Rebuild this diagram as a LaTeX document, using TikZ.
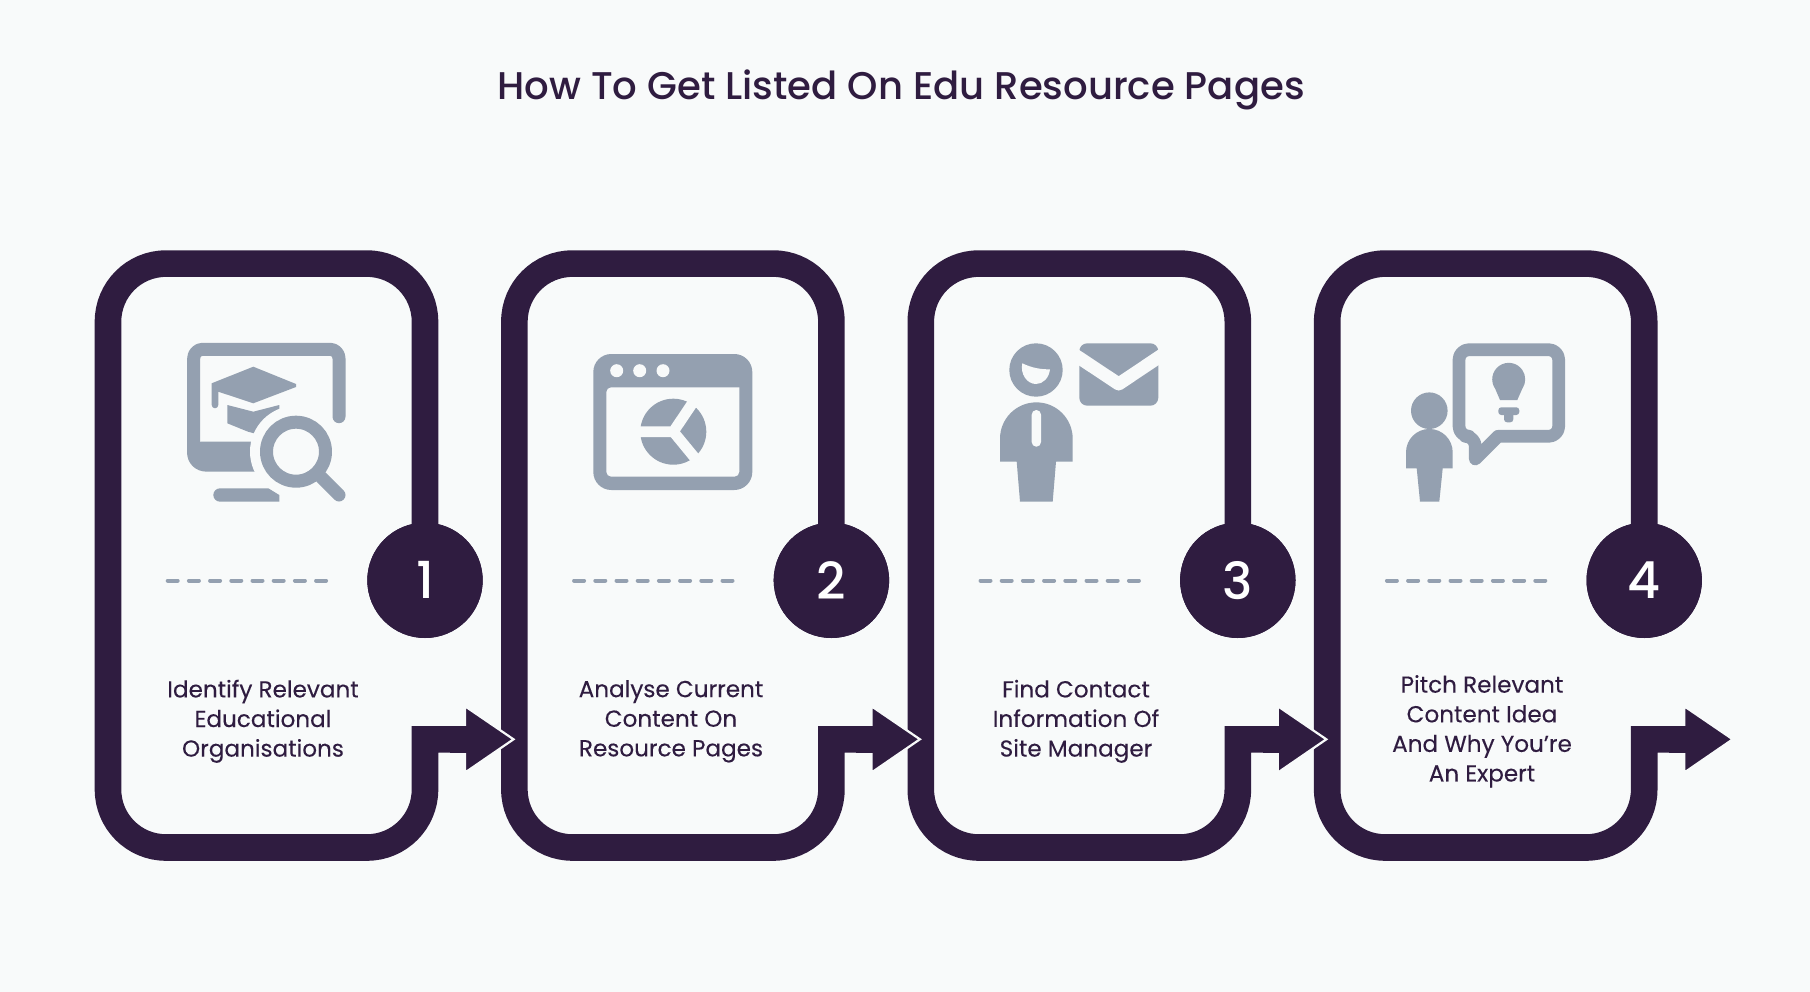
\documentclass[tikz,border=0pt]{standalone}
\usepackage{fontspec}
\setmainfont{Poppins}[FakeBold=0.15]
\newfontfamily\headfont{Poppins Medium}
\definecolor{pagebg}{HTML}{F8FAFA}
\definecolor{framecol}{HTML}{2F1C40}
\definecolor{iconcol}{HTML}{94A0B0}
\tikzset{
    framepath/.style={draw=framecol, line width=26.6pt, line join=miter},
    numcircle/.style={circle, fill=framecol, text=white, minimum size=115.4pt, inner sep=0pt, font=\headfont\fontsize{51}{60}\selectfont},
    steptext/.style={align=center, text=framecol, font=\fontsize{23.1}{29.6}\selectfont},
    dashline/.style={draw=iconcol, line width=4pt, line cap=round, dash pattern=on 10pt off 11.2pt},
    iconfill/.style={fill=iconcol},
    iconline/.style={draw=iconcol, line width=13pt, line cap=round, line join=round},
    iconcut/.style={draw=pagebg, line cap=round, line join=round},
}
\begin{document}
\begin{tikzpicture}[x=1pt, y=-1pt]
    \fill[pagebg] (0,0) rectangle (1810,992);
    \useasboundingbox (0,0) rectangle (1810,992);

    \node[text=framecol, font=\headfont\fontsize{38.6}{48}\selectfont] (title) at (901,90) {How To Get Listed On Edu Resource Pages};

    % frames first, the arrows lie over the next frame
    \foreach \i in {0,1,2,3} {
        \begin{scope}[xshift=\i*406.4pt]
            \node[numcircle, text opacity=0] (hold\i) at (425,580.3) {};
            \draw[framepath] (hold\i.center) [rounded corners=58pt] -- (425,263.6) -- (108,263.6) -- (108,847.5) -- (425,847.5) [sharp corners] -- (425,739.3) -- (466,739.3);
            \draw[dashline] (167.7,580.5) -- (326.1,580.5);
        \end{scope}
    }
    \foreach \i/\num in {0/1,1/2,2/3,3/4} {
        \begin{scope}[xshift=\i*406.4pt]
            \node[numcircle] (num\i) at (425,580.3) {\num};
            \coordinate (tail\i) at (450,739.3);
            \coordinate (head\i) at (468,739.3);
            \fill[framecol, draw=pagebg, line width=2.2pt, miter limit=20] (465,706.2) -- (513.5,739.3) -- (465,772.6) -- cycle;
            \draw[framecol, line width=26.6pt] (tail\i) -- (head\i);
        \end{scope}
    }

    \node[steptext] (text0) at (263,721.3) {Identify Relevant\\Educational\\Organisations};
    \node[steptext] (text1) at (671,721.3) {Analyse Current\\Content On\\Resource Pages};
    \node[steptext] (text2) at (1076,721.3) {Find Contact\\Information Of\\Site Manager};
    \node[steptext] (text3) at (1482,731.3) {Pitch Relevant\\Content Idea\\And Why You\symbol{39}re\\An Expert};

    % icon 1
    \draw[iconline] (339,416.7) -- (339,359) [rounded corners=9pt] -- (339,349.3) -- (193.7,349.3) -- (193.7,440);
    \fill[iconfill] (187,435) -- (200,441.7) -- (260,441.7) -- (260,471.7) -- (207,471.7) .. controls (195,471.7) and (187,463) .. (187,452) -- cycle;
    \fill[iconfill] (253.3,366.7) -- (296,384) -- (296,387) -- (253.3,403.3) -- (218.3,391.7) -- (218.3,405) arc[start angle=0, end angle=-180, radius=3.3pt] -- (211.7,383.3) -- cycle;
    \fill[iconfill] (227.3,405) -- (253.3,411.7) -- (279.3,405) -- (279.3,440) -- (248,431.7) -- (227.3,423.3) -- cycle;
    \fill[pagebg] (296,451.7) circle (46pt);
    \draw[iconline, line cap=butt] (296,451.7) circle (29.5pt);
    \draw[iconline] (321.7,477.7) -- (339,495);
    \fill[iconfill] (220,488.3) -- (268.3,488.3) -- (279.3,495) -- (279.3,501.7) -- (220,501.7) arc[start angle=-90, end angle=-270, radius=6.7pt] -- cycle;

    % icon 2
    \fill[iconfill, rounded corners=18pt] (593.3,354) rectangle (752.3,490);
    \fill[pagebg, rounded corners=5pt] (606.3,476.7) -- (606.3,387.3) [sharp corners] -- (739.3,387.3) [rounded corners=5pt] -- (739.3,476.7) -- cycle;
    \foreach \dotx in {616.7,639.7,663} {
        \fill[pagebg] (\dotx,370.7) circle (6.5pt);
    }
    \fill[iconfill] (673.3,431.7) circle (33pt);
    \draw[pagebg, line width=10.7pt] (630,431.7) -- (673.3,431.7) -- (700,392);
    \draw[pagebg, line width=10.7pt] (673.3,431.7) -- (704,469);

    % icon 3
    \fill[iconfill] (1036,370) circle (26.7pt);
    \fill[pagebg] (1022.3,363.3) .. controls (1032,368) and (1041,369.5) .. (1050,369.3) .. controls (1049,378) and (1043,384) .. (1036,384) .. controls (1027,384) and (1020,374) .. (1022.3,363.3) -- cycle;
    \fill[iconfill] (1000,438.7) arc[start angle=180, end angle=0, radius=36.35pt] -- (1072.7,461.7) -- (1056,461.7) -- (1052.7,501.7) -- (1020,501.7) -- (1016.7,461.7) -- (1000,461.7) -- cycle;
    \fill[pagebg, rounded corners=4.6pt] (1031.7,410) rectangle (1041,446.7);
    \fill[iconfill, rounded corners=8pt] (1079.3,343.3) rectangle (1158.3,405.7);
    \draw[iconcut, line width=13pt] (1075,355) -- (1118.7,384) -- (1162,355);

    % icon 4
    \draw[iconline, line width=12.7pt] (1498,436.3) [rounded corners=10pt] -- (1558.7,436.3) -- (1558.7,349.7) -- (1459,349.7) -- (1459,436.3) -- (1475.3,436.3) [sharp corners] -- (1475.3,459) -- cycle;
    \fill[iconfill] (1500,400) -- (1495.2,388.8) arc[start angle=215, end angle=-35, radius=16.5pt] -- (1517.3,400) -- cycle;
    \fill[iconfill, rounded corners=3pt] (1498.3,407.3) rectangle (1519.3,415);
    \fill[iconfill, rounded corners=3pt] (1504,412) rectangle (1513.3,422.3);
    \fill[iconfill] (1429.3,410.7) circle (18.3pt);
    \fill[iconfill] (1406,452.3) arc[start angle=180, end angle=0, radius=23.35pt] -- (1452.7,468.3) -- (1442.7,468.3) -- (1439.3,501.7) -- (1420,501.7) -- (1416.7,468.3) -- (1406,468.3) -- cycle;
\end{tikzpicture}
\end{document}
